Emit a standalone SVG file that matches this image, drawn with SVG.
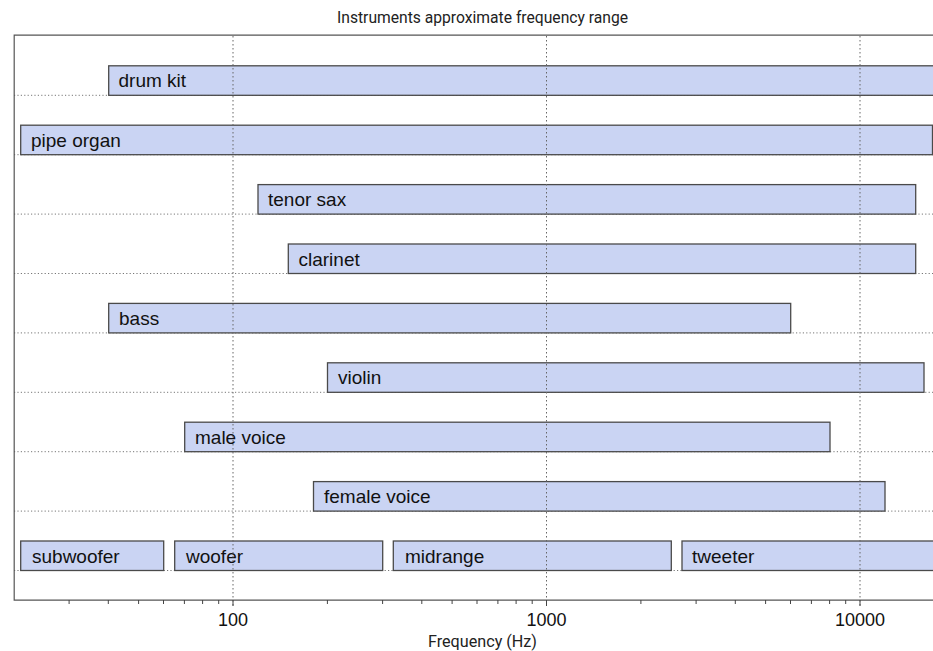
<svg xmlns="http://www.w3.org/2000/svg" width="933" height="651" viewBox="0 0 933 651">
<style>
.bar{fill:#cad4f3;stroke:#4a4a4a;stroke-width:1.3}
.lbl{font-family:"Liberation Sans",Arial,sans-serif;font-size:19px;fill:#111}
.hgrid{stroke:#777;stroke-width:1;stroke-dasharray:1.2,2.2;fill:none}
.vgrid{stroke:#666;stroke-width:1;stroke-dasharray:1.5,2.5;fill:none}
.frame{stroke:#555;stroke-width:1.2;fill:none}
.tick{stroke:#444;stroke-width:1}
.tl{font-family:"Liberation Sans",Arial,sans-serif;font-size:18px;fill:#111;text-anchor:middle}
.cap{font-family:Roboto,"Liberation Sans",sans-serif;font-size:16px;fill:#222;text-anchor:middle}
</style>
<rect x="0" y="0" width="933" height="651" fill="#fff"/>
<g id="grid-h">
<line class="hgrid" x1="14" y1="95.3" x2="933" y2="95.3"/>
<line class="hgrid" x1="14" y1="154.7" x2="933" y2="154.7"/>
<line class="hgrid" x1="14" y1="214.1" x2="933" y2="214.1"/>
<line class="hgrid" x1="14" y1="273.5" x2="933" y2="273.5"/>
<line class="hgrid" x1="14" y1="332.9" x2="933" y2="332.9"/>
<line class="hgrid" x1="14" y1="392.3" x2="933" y2="392.3"/>
<line class="hgrid" x1="14" y1="451.7" x2="933" y2="451.7"/>
<line class="hgrid" x1="14" y1="511.1" x2="933" y2="511.1"/>
<line class="hgrid" x1="14" y1="570.5" x2="933" y2="570.5"/>
</g>
<g id="drum-kit"><rect class="bar" x="108.7" y="65.8" width="840" height="29.5"/><text class="lbl" x="118.5" y="87.3">drum kit</text></g>
<g id="pipe-organ"><rect class="bar" x="20.7" y="125.2" width="911.8" height="29.5"/><text class="lbl" x="31" y="146.7">pipe organ</text></g>
<g id="tenor-sax"><rect class="bar" x="258" y="184.6" width="657.7" height="29.5"/><text class="lbl" x="268" y="206.1">tenor sax</text></g>
<g id="clarinet"><rect class="bar" x="288.3" y="244" width="627.4" height="29.5"/><text class="lbl" x="298.5" y="265.5">clarinet</text></g>
<g id="bass"><rect class="bar" x="108.7" y="303.4" width="682" height="29.5"/><text class="lbl" x="119" y="324.9">bass</text></g>
<g id="violin"><rect class="bar" x="327.5" y="362.8" width="596.5" height="29.5"/><text class="lbl" x="338" y="384.3">violin</text></g>
<g id="male-voice"><rect class="bar" x="184.7" y="422.2" width="645.3" height="29.5"/><text class="lbl" x="195" y="443.7">male voice</text></g>
<g id="female-voice"><rect class="bar" x="313.5" y="481.6" width="571.5" height="29.5"/><text class="lbl" x="324" y="503.1">female voice</text></g>
<g id="subwoofer"><rect class="bar" x="20.7" y="541" width="143" height="29.5"/><text class="lbl" x="32" y="562.5">subwoofer</text></g>
<g id="woofer"><rect class="bar" x="174.7" y="541" width="208" height="29.5"/><text class="lbl" x="186" y="562.5">woofer</text></g>
<g id="midrange"><rect class="bar" x="393.3" y="541" width="278" height="29.5"/><text class="lbl" x="405" y="562.5">midrange</text></g>
<g id="tweeter"><rect class="bar" x="682" y="541" width="260" height="29.5"/><text class="lbl" x="692" y="562.5">tweeter</text></g>
<g id="grid-v">
<line class="vgrid" x1="233" y1="36" x2="233" y2="607"/>
<line class="vgrid" x1="546.5" y1="36" x2="546.5" y2="607"/>
<line class="vgrid" x1="860" y1="36" x2="860" y2="607"/>
</g>
<g id="axes">
<path class="frame" d="M933 35.2H14.2V600.2H933"/>
<g class="tick">
<line x1="69.1" y1="600" x2="69.1" y2="604"/><line x1="108.3" y1="600" x2="108.3" y2="604"/><line x1="138.6" y1="600" x2="138.6" y2="604"/><line x1="163.5" y1="600" x2="163.5" y2="604"/><line x1="184.4" y1="600" x2="184.4" y2="604"/><line x1="202.6" y1="600" x2="202.6" y2="604"/><line x1="218.7" y1="600" x2="218.7" y2="604"/>
<line x1="233" y1="600" x2="233" y2="606"/>
<line x1="327.4" y1="600" x2="327.4" y2="604"/><line x1="382.6" y1="600" x2="382.6" y2="604"/><line x1="421.8" y1="600" x2="421.8" y2="604"/><line x1="452.1" y1="600" x2="452.1" y2="604"/><line x1="477" y1="600" x2="477" y2="604"/><line x1="497.9" y1="600" x2="497.9" y2="604"/><line x1="516.1" y1="600" x2="516.1" y2="604"/><line x1="532.2" y1="600" x2="532.2" y2="604"/>
<line x1="546.5" y1="600" x2="546.5" y2="606"/>
<line x1="640.9" y1="600" x2="640.9" y2="604"/><line x1="696.1" y1="600" x2="696.1" y2="604"/><line x1="735.3" y1="600" x2="735.3" y2="604"/><line x1="765.6" y1="600" x2="765.6" y2="604"/><line x1="790.5" y1="600" x2="790.5" y2="604"/><line x1="811.4" y1="600" x2="811.4" y2="604"/><line x1="829.6" y1="600" x2="829.6" y2="604"/><line x1="845.7" y1="600" x2="845.7" y2="604"/>
<line x1="860" y1="600" x2="860" y2="606"/>
</g>
<text class="tl" x="233" y="626">100</text>
<text class="tl" x="546.5" y="626">1000</text>
<text class="tl" x="860" y="626">10000</text>
<text class="cap" x="482.5" y="647" textLength="109" lengthAdjust="spacingAndGlyphs">Frequency (Hz)</text>
<text class="cap" x="482.5" y="22.5" textLength="291" lengthAdjust="spacingAndGlyphs">Instruments approximate frequency range</text>
</g>
</svg>
